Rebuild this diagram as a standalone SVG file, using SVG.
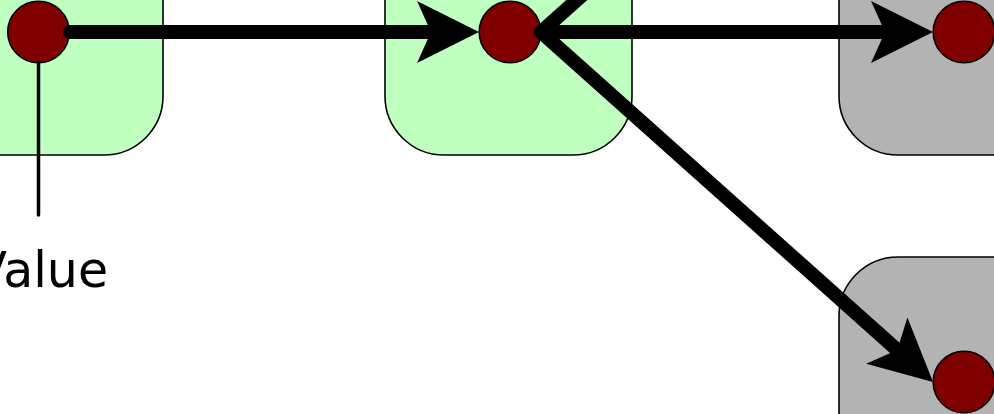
<svg xmlns="http://www.w3.org/2000/svg" width="994" height="414" viewBox="0 0 994 414">
<style>
.box{stroke:#000;stroke-width:1.6}
.green{fill:#bfffbf}
.gray{fill:#b3b3b3}
.dot{fill:#800000;stroke:#000;stroke-width:1.6}
.edge{fill:none;stroke:#000;stroke-width:14;stroke-linecap:round}
.pin{fill:none;stroke:#000;stroke-width:3.5;stroke-linecap:round}
.lbl{font-family:"DejaVu Sans",sans-serif;font-size:49px;fill:#000}
</style>
<defs>
<marker id="ah" markerUnits="userSpaceOnUse" viewBox="0 -31 62 62" refX="20" refY="0" markerWidth="62" markerHeight="62" orient="auto" overflow="visible">
<path d="M0,-31 L62,0 L0,31 L14,0 Z" fill="#000"/>
</marker>
</defs>
<g id="node1">
<rect class="box green" x="-87" y="-93" width="250" height="248" rx="59" ry="59"/>
<circle class="dot" cx="38.5" cy="32" r="30.8"/>
</g>
<g id="node2">
<rect class="box green" x="385" y="-93" width="247" height="248" rx="59" ry="59"/>
<circle class="dot" cx="510" cy="32" r="30.8"/>
</g>
<g id="node3">
<rect class="box gray" x="839" y="-93" width="250" height="248" rx="59" ry="59"/>
<circle class="dot" cx="964" cy="32" r="30.8"/>
</g>
<g id="node4">
<rect class="box gray" x="839" y="257" width="250" height="250" rx="59" ry="59"/>
<circle class="dot" cx="964" cy="382" r="30.8"/>
</g>
<g id="connectors">
<line class="edge" x1="70" y1="32" x2="437" y2="32" marker-end="url(#ah)"/>
<line class="edge" x1="541" y1="32" x2="891" y2="32" marker-end="url(#ah)"/>
<line class="edge" x1="541" y1="32" x2="901.7" y2="-290" marker-end="url(#ah)"/>
<line class="edge" x1="541" y1="32" x2="901.7" y2="354" marker-end="url(#ah)"/>
</g>
<g id="label">
<line class="pin" x1="38.5" y1="61" x2="38.5" y2="215"/>
<text class="lbl" x="-26.5" y="287">Value</text>
</g>
</svg>
